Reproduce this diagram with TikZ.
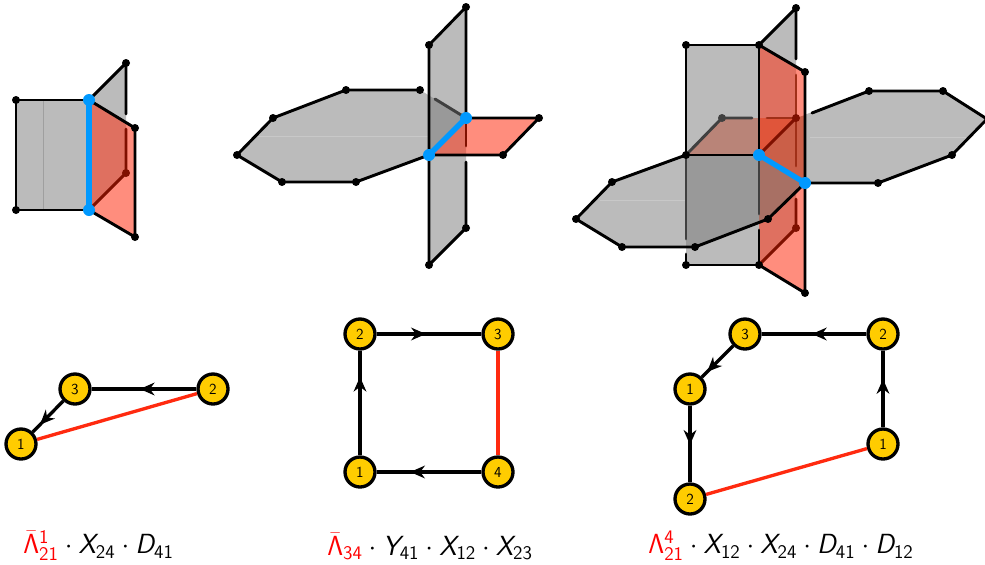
\documentclass[tikz,border=0pt]{standalone}
\usetikzlibrary{arrows.meta,decorations.markings}
\DeclareMathAlphabet{\msf}{OT1}{cmss}{m}{n}
\DeclareMathAlphabet{\msi}{OT1}{cmss}{m}{sl}
\definecolor{pgray}{HTML}{BBBBBB}
\definecolor{pgrayd}{HTML}{999999}
\definecolor{pred}{HTML}{FF8D7D}
\definecolor{predg}{HTML}{DF7060}
\definecolor{pbrown}{HTML}{B98478}
\definecolor{pbrownd}{HTML}{A87064}
\definecolor{predd}{HTML}{E0553A}
\definecolor{predm}{HTML}{CB5F48}
\definecolor{dkred}{HTML}{7F1000}
\definecolor{mdred}{HTML}{A03018}
\definecolor{dkgray}{HTML}{404040}
\definecolor{bluep}{HTML}{0099FF}
\definecolor{yel}{HTML}{FFCC00}
\definecolor{qred}{HTML}{FF2A0F}
\newcommand{\Rd}[1]{\textcolor{red}{#1}}
\tikzset{
 edgeb/.style={line width=2.2pt,line cap=round,line join=round,black},
 edgeh/.style={line width=2.2pt,line cap=round,line join=round,dkgray},
 edger/.style={line width=2.2pt,line cap=round,line join=round,dkred},
 edgem/.style={line width=2.2pt,line cap=round,line join=round,mdred},
 bluee/.style={line width=4pt,line cap=round,bluep},
 seamw/.style={line width=.5pt,white,opacity=.2},
 seamd/.style={line width=.6pt,black,opacity=.15},
 qnode/.style={circle,draw=black,fill=yel,line width=2.5pt,minimum size=22.5pt,inner sep=0pt,font=\sffamily\fontsize{11.5}{12}\selectfont},
 qarrow/.style={line width=2.5pt,black,postaction={decorate},decoration={markings,mark=at position #1 with {\arrow{Stealth[length=11pt,width=9.5pt,inset=3.5pt]}}}},
 qline/.style={line width=2.5pt,qred},
 eqn/.style={inner sep=0pt,font=\fontsize{#1}{24}\selectfont}
}
\begin{document}
\begin{tikzpicture}[x=.75pt,y=-.75pt]
\useasboundingbox (0,0) rectangle (985,564);
\clip (0,0) rectangle (985,564);
% ---------- left figure
\fill[pgray] (16,100)--(89,100)--(89,210)--(16,210)--cycle;
\fill[pgray] (89,100)--(126,63)--(126,173)--(89,210)--cycle;
\fill[pred] (89,100)--(135,128)--(135,237)--(89,210)--cycle;
\fill[predg] (89,100)--(126,122)--(126,173)--(89,210)--cycle;
\draw[seamd] (43,100)--(43,210);
\draw[edgeb] (89,100)--(16,100)--(16,210)--(89,210);
\draw[edgeb] (89,100)--(126,63)--(126,114);
\draw[edger] (126,129)--(126,173)--(89,210);
\draw[edgeb] (89,100)--(135,128)--(135,237)--(89,210);
\foreach \p in {(16,100),(16,210),(126,63),(135,128),(135,237)} \fill \p circle[radius=4];
\fill[dkred] (126,173) circle[radius=4];
\draw[bluee] (89,100)--(89,210);
\foreach \p in {(89,100),(89,210)} \fill[bluep] \p circle[radius=6];
% ---------- middle figure
\fill[pgray] (237,155)--(273,118)--(346,90)--(420,90)--(466,118)--(429,155)--(356,182)--(282,182)--cycle;
\fill[pgray] (429,45)--(466,7)--(466,228)--(429,265)--cycle;
\fill[pgrayd] (429,95.5)--(466,118)--(429,155)--cycle;
\fill[pred] (466,118)--(539,118)--(503,155)--(429,155)--cycle;
\fill[predg] (466,118)--(466,155)--(429,155)--cycle;
\draw[seamw] (240,136)--(429,136);
\draw[edgeb] (429,155)--(356,182)--(282,182)--(237,155)--(273,118)--(346,90)--(420,90);
\draw[edgeh] (435,99)--(466,118);
\draw[edgeb] (466,118)--(466,7)--(429,45)--(429,265)--(466,228)--(466,162);
\draw[edger] (466,118)--(466,146);
\draw[edgeb] (466,118)--(539,118)--(503,155)--(429,155);
\foreach \p in {(237,155),(273,118),(346,90),(420,90),(356,182),(282,182),(429,45),(466,7),(429,265),(466,228),(539,118),(503,155)} \fill \p circle[radius=4];
\draw[bluee] (429,155)--(466,118);
\foreach \p in {(429,155),(466,118)} \fill[bluep] \p circle[radius=6];
% ---------- right figure
\fill[pgray] (686,155)--(612,182)--(576,219)--(622,247)--(695,247)--(768,219)--(805,183)--(878,183)--(952,155)--(987,119)--(943,91)--(869,91)--(796,118)--(722,118)--cycle;
\fill[pgray] (686,45)--(759,45)--(759,265)--(686,265)--cycle;
\fill[pgray] (759,45)--(796,8)--(796,228)--(759,265)--cycle;
\fill[pred] (759,45)--(805,72)--(805,293)--(759,265)--cycle;
\fill[predg] (759,45)--(796,67)--(796,228)--(759,265)--cycle;
\fill[pgrayd] (686,155)--(759,155)--(759,222.5)--(695,247)--(686,247)--cycle;
\fill[pbrown] (686,155)--(722,118)--(759,118)--(759,155)--cycle;
\fill[predd] (759,118)--(796,118)--(759,155)--cycle;
\fill[predm] (759,155)--(796,118)--(805,115)--(805,183)--cycle;
\fill[pbrownd] (759,155)--(805,183)--(768,219)--(759,222.5)--cycle;
\draw[seamw] (810,137)--(970,137);
\draw[seamw] (600,200)--(686,200);
\draw[edgeb] (686,155)--(686,45)--(759,45)--(759,155);
\draw[edgeh] (686,155)--(686,239);
\draw[edgeb] (686,254)--(686,265)--(759,265)--(759,230);
\draw[edgeh] (759,155)--(759,214);
\draw[edgeb] (759,45)--(796,8)--(796,59);
\draw[edgem] (796,75)--(796,166);
\draw[edger] (796,199)--(796,228)--(759,265);
\draw[edger] (796,118)--(759,155);
\draw[edgeh] (686,155)--(722,118)--(752,118);
\draw[edgem] (767,118)--(796,118);
\draw[edgeb] (686,155)--(759,155);
\draw[edgeb] (759,45)--(805,72)--(805,293)--(759,265);
\draw[edgeb] (805,183)--(878,183)--(952,155)--(987,119)--(943,91)--(869,91)--(812,113);
\draw[edgeb] (805,183)--(768,219)--(695,247)--(622,247)--(576,219)--(612,182)--(686,155);
\foreach \p in {(686,155),(686,45),(759,45),(796,8),(805,72),(805,293),(759,265),(686,265),(878,183),(952,155),(943,91),(869,91),(768,219),(695,247),(622,247),(576,219),(612,182)} \fill \p circle[radius=4];
\fill[dkgray] (722,118) circle[radius=4];
\foreach \p in {(796,118),(796,228)} \fill[dkred] \p circle[radius=4];
\draw[bluee] (759,155)--(805,183);
\foreach \p in {(759,155),(805,183)} \fill[bluep] \p circle[radius=6];
% ---------- quivers
\node[qnode] (a1) at (21,444) {1};
\node[qnode] (a3) at (75,389) {3};
\node[qnode] (a2) at (213,389) {2};
\draw[qarrow=.54] (a2)--(a3);
\draw[qarrow=.76] (a3)--(a1);
\draw[qline] (a1)--(a2);
\node[qnode] (b2) at (360,334) {2};
\node[qnode] (b3) at (498,334) {3};
\node[qnode] (b1) at (360,472) {1};
\node[qnode] (b4) at (498,472) {4};
\draw[qarrow=.47] (b2)--(b3);
\draw[qarrow=.75] (b1)--(b2);
\draw[qarrow=.68] (b4)--(b1);
\draw[qline] (b3)--(b4);
\node[qnode] (c3) at (745,334) {3};
\node[qnode] (c2) at (883,334) {2};
\node[qnode] (c1) at (690,389) {1};
\node[qnode] (c5) at (883,444) {1};
\node[qnode] (c4) at (690,499) {2};
\draw[qarrow=.52] (c2)--(c3);
\draw[qarrow=.83] (c3)--(c1);
\draw[qarrow=.51] (c1)--(c4);
\draw[qarrow=.63] (c5)--(c2);
\draw[qline] (c4)--(c5);
% ---------- labels
\node[eqn=19.4] (la) at (98.5,546) {$\Rd{\bar{\msf{\Lambda}}^{\msf{1}}_{\msf{21}}}\cdot\msi{X}_{\msf{24}}\cdot\msi{D}_{\msf{41}}$};
\node[eqn=19.6] (lb) at (430,546) {$\Rd{\bar{\msf{\Lambda}}_{\msf{34}}}\cdot\msi{Y}_{\msf{41}}\cdot\msi{X}_{\msf{12}}\cdot\msi{X}_{\msf{23}}$};
\node[eqn=20.5] (lc) at (781,546) {$\Rd{\msf{\Lambda}^{\msf{4}}_{\msf{21}}}\cdot\msi{X}_{\msf{12}}\cdot\msi{X}_{\msf{24}}\cdot\msi{D}_{\msf{41}}\cdot\msi{D}_{\msf{12}}$};
\end{tikzpicture}
\end{document}
